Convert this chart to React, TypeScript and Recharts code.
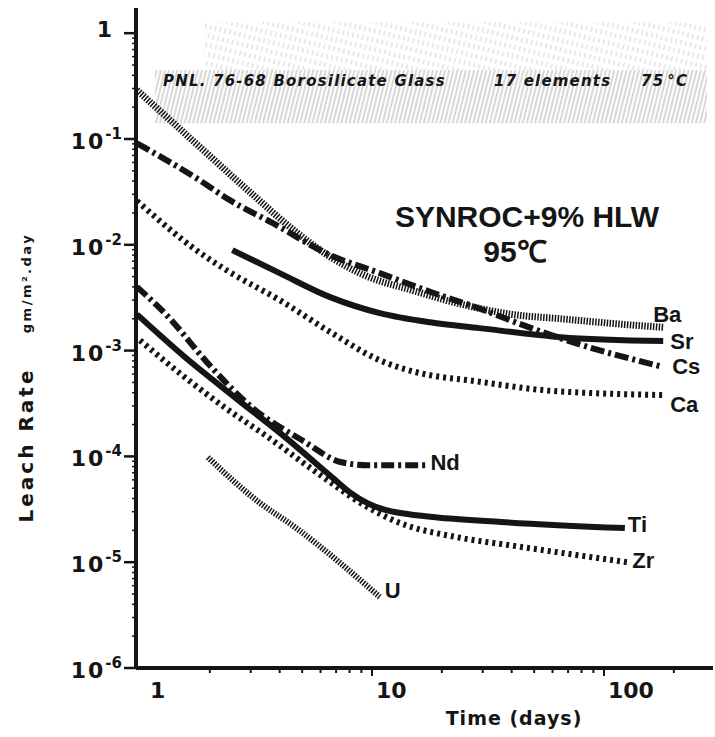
import { LineChart, Line, XAxis, YAxis, ReferenceArea } from "recharts";

// values (time in days, leach rate in gm/m2.day)
const baTime = [0.97, 1.8, 3.0, 4.75, 6.6, 9.2, 15, 25, 40, 65, 110, 180];
const baRate = [0.29, 0.085, 0.031, 0.013, 0.0077, 0.0052, 0.0037, 0.0027, 0.0022, 0.002, 0.0018, 0.00166];

const srTime = [2.5, 4.0, 6.6, 10.8, 17.8, 29, 65, 180];
const srRate = [0.0089, 0.0054, 0.0032, 0.00226, 0.00185, 0.00163, 0.00134, 0.00123];

const csTime = [0.97, 1.8, 2.44, 3.74, 6.6, 10.8, 17.8, 29, 43, 76, 180];
const csRate = [0.091, 0.041, 0.0264, 0.016, 0.008, 0.0054, 0.0036, 0.0025, 0.0018, 0.00117, 0.0007];

const caTime = [0.97, 1.8, 2.44, 4.0, 6.6, 10.8, 17.8, 26, 57, 180];
const caRate = [0.026, 0.0085, 0.0055, 0.003, 0.0015, 0.00081, 0.000585, 0.000525, 0.00042, 0.00038];

const ndTime = [0.97, 1.32, 1.96, 3.04, 5.0, 7.4, 9.6, 17];
const ndRate = [0.004, 0.0021, 0.00076, 0.00029, 0.000142, 0.000088, 0.0000825, 0.0000825];

const tiTime = [0.97, 1.56, 2.57, 4.22, 6.93, 8.0, 9.6, 11.5, 13.5, 18.7, 36, 123];
const tiRate = [0.0022, 0.00087, 0.00036, 0.000152, 0.00006, 0.000046, 0.000036, 0.000031, 0.000029, 0.0000266, 0.000024, 0.000021];

const zrTime = [1.0, 1.56, 2.32, 3.56, 5.85, 9.6, 12.3, 24, 39, 70, 126];
const zrRate = [0.00125, 0.00056, 0.00029, 0.000152, 0.000069, 0.000033, 0.000025, 0.000017, 0.0000145, 0.000012, 0.00001];

const uTime = [1.96, 3.2, 4.66, 10.8];
const uRate = [0.000098, 0.000038, 0.0000214, 0.0000047];

const xTicks = [1, 2, 3, 4, 5, 6, 7, 8, 9, 10, 20, 30, 40, 50, 60, 70, 80, 90, 100, 200];
const yDecades = [1e-6, 1e-5, 1e-4, 1e-3, 1e-2, 1e-1, 1];
const yTicks = yDecades.flatMap((d) => (d === 1 ? [1] : [1, 2, 3, 4, 5, 6, 7, 8, 9].map((m) => m * d)));

const mk = (t: number[], r: number[]) => t.map((x, i) => ({ x, y: r[i] }));

const ink = "#151515";
const series = [
  { name: "Ba", data: mk(baTime, baRate), w: 7, dash: "1.5 1.4", dx: -10, dy: -5 },
  { name: "Sr", data: mk(srTime, srRate), w: 6, dash: undefined, dx: 7, dy: 8 },
  { name: "Cs", data: mk(csTime, csRate), w: 6, dash: "14 4 3 4", dx: 9, dy: 7 },
  { name: "Ca", data: mk(caTime, caRate), w: 6, dash: "3 4", dx: 7, dy: 17 },
  { name: "Nd", data: mk(ndTime, ndRate), w: 6, dash: "13 4 3 4", dx: 5, dy: 5 },
  { name: "Ti", data: mk(tiTime, tiRate), w: 6, dash: undefined, dx: 3, dy: 4 },
  { name: "Zr", data: mk(zrTime, zrRate), w: 6, dash: "3 4", dx: 5, dy: 6 },
  { name: "U", data: mk(uTime, uRate), w: 6, dash: "1.5 1.4", dx: 5, dy: 1 },
];

const tickFont = { fontFamily: "DejaVu Sans", fontWeight: 700, fill: ink };

function YTick(p: any) {
  const { x, y, payload } = p;
  const v = payload.value;
  const e = Math.round(Math.log10(v));
  const major = Math.abs(v - Math.pow(10, e)) < Math.pow(10, e) * 1e-6;
  return (
    <g>
      <line x1={x - (major ? 12 : 4)} x2={x} y1={y} y2={y} stroke={ink} strokeWidth={major ? 2.5 : 1.5} />
      {major && e === 0 && (
        <text x={x - 24} y={y + 4} textAnchor="end" fontSize={22} {...tickFont}>1</text>
      )}
      {major && e !== 0 && (
        <text x={x - 14} y={y + 10} textAnchor="end" fontSize={22} letterSpacing={2} {...tickFont}>
          10<tspan dy={-10} fontSize={15} letterSpacing={0}>-{-e}</tspan>
        </text>
      )}
    </g>
  );
}

function XTick(p: any) {
  const { x, y, payload } = p;
  const v = payload.value;
  const major = v === 1 || v === 10 || v === 100;
  return (
    <g>
      {v !== 1 && <line x1={x} x2={x} y1={y} y2={y + (major ? 8 : 5)} stroke={ink} strokeWidth={2} />}
      {major && (
        <text x={x + (v === 1 ? 10 : 4)} y={y + 30} textAnchor="start" fontSize={22} {...tickFont}>{v}</text>
      )}
    </g>
  );
}

function endLabel(s: (typeof series)[number]) {
  return (p: any) => {
    if (p.index !== s.data.length - 1) return <g />;
    return (
      <text x={p.x + s.dx} y={p.y + s.dy} fontSize={22} fontFamily="Liberation Sans" fontWeight={700} fill={ink}>
        {s.name}
      </text>
    );
  };
}

export default function App() {
  return (
    <div style={{ position: "absolute", left: 0, top: 0, width: 715, height: 737, background: "#fff" }}>
      <svg width={0} height={0} style={{ position: "absolute" }}>
        <defs>
          <pattern id="glassHatch" patternUnits="userSpaceOnUse" width={4} height={12} patternTransform="rotate(14)">
            <line x1={1} y1={0} x2={1} y2={12} stroke="#333" strokeWidth={0.7} />
          </pattern>
          <pattern id="glassHatchLight" patternUnits="userSpaceOnUse" width={5} height={9} patternTransform="rotate(14)">
            <line x1={1} y1={0} x2={1} y2={5} stroke="#555" strokeWidth={0.6} />
          </pattern>
        </defs>
      </svg>
      <LineChart width={715} height={737} margin={{ top: 8, right: 2, bottom: 0, left: 0 }}>
        <XAxis
          dataKey="x"
          type="number"
          scale="log"
          domain={[0.961, 295]}
          allowDataOverflow
          ticks={xTicks}
          interval={0}
          height={69}
          tickSize={0}
          tickMargin={0}
          tickLine={false}
          tick={<XTick />}
          axisLine={{ stroke: ink, strokeWidth: 4 }}
        />
        <YAxis
          dataKey="y"
          type="number"
          scale="log"
          domain={[1e-6, 1.73]}
          allowDataOverflow
          ticks={yTicks}
          interval={0}
          width={136}
          tickSize={0}
          tickMargin={0}
          tickLine={false}
          tick={<YTick />}
          axisLine={{ stroke: ink, strokeWidth: 4 }}
        />
        <ReferenceArea x1={1.9} x2={278} y1={0.45} y2={1.27} fill="url(#glassHatchLight)" fillOpacity={0.45} stroke="none" ifOverflow="hidden" />
        <ReferenceArea x1={1.16} x2={278} y1={0.141} y2={0.45} fill="url(#glassHatch)" fillOpacity={0.55} stroke="none" ifOverflow="hidden" />
        {series.map((s) => (
          <Line
            key={s.name}
            data={s.data}
            dataKey="y"
            type="monotone"
            stroke={ink}
            strokeWidth={s.w}
            strokeDasharray={s.dash}
            dot={false}
            activeDot={false}
            isAnimationActive={false}
            label={endLabel(s)}
          />
        ))}
      </LineChart>
      <svg width={715} height={737} style={{ position: "absolute", left: 0, top: 0, pointerEvents: "none" }}>
        <g fontFamily="DejaVu Sans" fontWeight={700} fontStyle="italic" fontSize={15} letterSpacing={1.2} fill={ink}>
          <text x={163} y={86}>PNL. 76-68 Borosilicate Glass</text>
          <text x={494} y={86}>17 elements</text>
          <text x={641} y={86}>75<tspan dx={3}>°C</tspan></text>
        </g>
        <g fontFamily="Liberation Sans" fontWeight={700} fontSize={30} fill={ink} textAnchor="middle">
          <text x={527} y={227}>SYNROC+9% HLW</text>
          <text x={515} y={262}>95℃</text>
        </g>
        <text x={514} y={725} textAnchor="middle" fontSize={19} letterSpacing={1} {...tickFont}>Time (days)</text>
        <text x={33} y={445} transform="rotate(-90 33 445)" textAnchor="middle" fontSize={20} letterSpacing={3} {...tickFont}>
          Leach Rate
        </text>
        <text x={31} y={283} transform="rotate(-90 31 283)" textAnchor="middle" fontSize={13} letterSpacing={2.5} {...tickFont}>
          gm/m².day
        </text>
      </svg>
    </div>
  );
}
